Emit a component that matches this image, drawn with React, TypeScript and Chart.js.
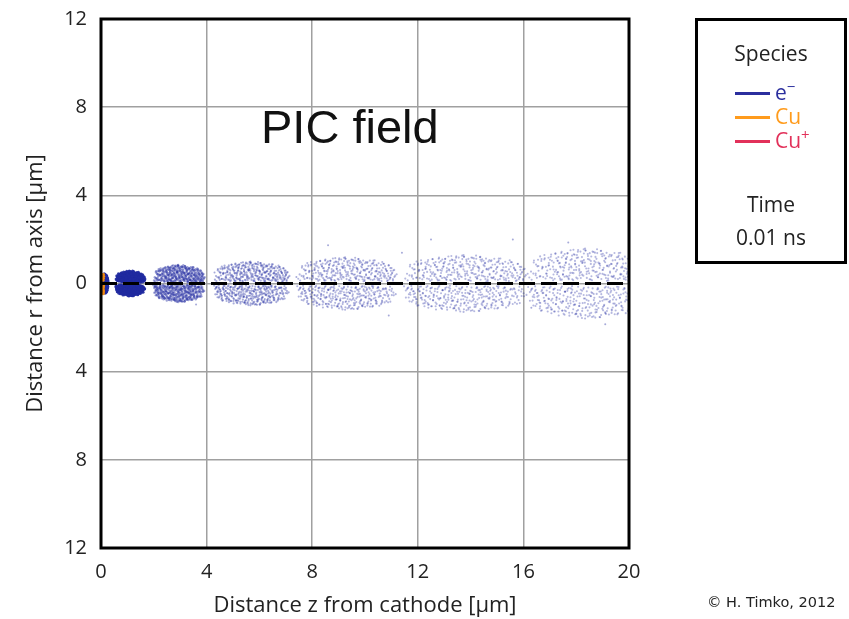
import React, { useEffect, useRef } from "react";
import { Chart, registerables } from "chart.js";

Chart.register(...registerables);

// ---- axes ----
const zTicks = [0, 4, 8, 12, 16, 20];
const rTicks = [-12, -8, -4, 0, 4, 8, 12];

// ---- electron clouds (centre z, half width, inner / outer radius) ----
const clusterZ = [0.14, 1.1, 2.95, 5.7, 9.3, 13.8, 18.4];
const clusterHalfWidth = [0.12, 0.55, 0.95, 1.4, 1.85, 2.3, 2.2];
const clusterRInner = [0.04, 0.05, 0.06, 0.08, 0.1, 0.1, 0.12];
const clusterROuter = [0.45, 0.58, 0.85, 1.0, 1.2, 1.3, 1.6];
const clusterAlpha = [1, 0.9, 0.43, 0.38, 0.34, 0.33, 0.33];
const clusterDotSize = [1.6, 1.5, 1.2, 1.1, 1.05, 1.05, 1.05];
const clusterCopies = [1, 2, 3, 3, 3, 3, 3];
const copyShiftU = [0, 0.047, -0.029];
const copyShiftV = [0, 0.37, 0.71];

// hand-placed texture of one lobe (u: along z in half widths, v: across r)
const STAMP: [number, number][] = [
  [-0.92, 0.35], [-0.85, 0.62], [-0.81, 0.18], [-0.77, 0.48], [-0.73, 0.81], [-0.7, 0.27], [-0.66, 0.55],
  [-0.63, 0.12], [-0.6, 0.7], [-0.57, 0.39], [-0.54, 0.92], [-0.51, 0.22], [-0.48, 0.58], [-0.46, 0.08],
  [-0.43, 0.76], [-0.4, 0.33], [-0.38, 0.5], [-0.35, 0.15], [-0.33, 0.88], [-0.3, 0.42], [-0.28, 0.65],
  [-0.25, 0.25], [-0.23, 0.97], [-0.2, 0.53], [-0.18, 0.1], [-0.15, 0.72], [-0.13, 0.36], [-0.1, 0.6],
  [-0.08, 0.19], [-0.05, 0.84], [-0.03, 0.45], [0.0, 0.28], [0.02, 0.67], [0.05, 0.05], [0.07, 0.52],
  [0.1, 0.9], [0.12, 0.31], [0.15, 0.74], [0.17, 0.16], [0.2, 0.57], [0.22, 0.4], [0.25, 0.83],
  [0.27, 0.22], [0.3, 0.63], [0.33, 0.09], [0.35, 0.47], [0.38, 0.78], [0.4, 0.3], [0.43, 0.55],
  [0.46, 0.13], [0.49, 0.69], [0.52, 0.37], [0.55, 0.86], [0.58, 0.24], [0.61, 0.5], [0.64, 0.07],
  [0.67, 0.64], [0.7, 0.33], [0.74, 0.44], [0.78, 0.2], [0.82, 0.58], [0.86, 0.3], [0.91, 0.41],
  [0.95, 0.15], [-0.96, 0.5], [-0.88, 0.25], [-0.83, 0.42], [-0.75, 0.15], [-0.68, 0.38], [-0.62, 0.85],
  [-0.55, 0.31], [-0.5, 0.66], [-0.45, 0.44], [-0.41, 0.2], [-0.36, 0.71], [-0.31, 0.05], [-0.27, 0.46],
  [-0.22, 0.34], [-0.17, 0.8], [-0.12, 0.24], [-0.07, 0.56], [-0.02, 0.93], [0.03, 0.38], [0.08, 0.14],
  [0.13, 0.61], [0.18, 0.86], [0.23, 0.48], [0.28, 0.35], [0.32, 0.7], [0.37, 0.18], [0.42, 0.8],
  [0.47, 0.42], [0.53, 0.6], [0.57, 0.1], [0.62, 0.75], [0.66, 0.45], [0.72, 0.55], [0.76, 0.27],
  [0.8, 0.68], [0.85, 0.45], [0.89, 0.22], [0.93, 0.52], [0.98, 0.35],
];

// isolated electrons away from the clouds
const strayZ = [8.6, 11.4, 12.5, 15.6, 17.7, 3.6, 10.9, 19.1, 7.4, 4.3, 16.3];
const strayR = [1.73, 1.4, 2.0, 2.0, 1.86, -0.95, -1.45, -1.85, 0.3, 0.5, -1.1];

// copper atoms at the cathode
const cuZ = [0.09, 0.1, 0.09, 0.08, 0.1, 0.09, 0.08, 0.1, 0.09, 0.08];
const cuR = [0.42, 0.33, 0.24, 0.15, -0.1, -0.18, -0.26, -0.34, -0.42, -0.47];

// legend
const speciesNames = ["e", "Cu", "Cu"];
const speciesSup = ["\u2212", "", "+"];
const speciesColors = ["#2b2f9e", "#ff9b1c", "#e2315a"];

const FONT = "'Open Sans', 'DejaVu Sans', sans-serif";

function lobeR(k: number, u: number, v: number) {
  const span = clusterROuter[k] - clusterRInner[k];
  const env = 0.4 + 0.6 * Math.sqrt(Math.max(0, 1 - u * u));
  return clusterRInner[k] + v * span * env;
}

function cloudPoints(k: number) {
  const pts: { x: number; y: number }[] = [];
  const n = STAMP.length;
  for (let c = 0; c < clusterCopies[k]; c++) {
    for (let i = 0; i < n; i++) {
      const [u0, v0] = STAMP[i];
      const u = u0 + copyShiftU[c];
      const v = (v0 + copyShiftV[c]) % 1;
      pts.push({ x: clusterZ[k] + u * clusterHalfWidth[k], y: lobeR(k, u, v) });
      const [u1, v1] = STAMP[n - 1 - i];
      const ul = -u1 + copyShiftU[c];
      const vl = (v1 + copyShiftV[c]) % 1;
      pts.push({ x: clusterZ[k] + ul * clusterHalfWidth[k], y: -lobeR(k, ul, vl) });
    }
  }
  return pts;
}

const framePlugin = {
  id: "frame",
  afterDraw(chart: any) {
    const { ctx, chartArea: a } = chart;
    ctx.save();
    ctx.strokeStyle = "#000";
    ctx.lineWidth = 3;
    ctx.strokeRect(a.left, a.top, a.right - a.left, a.bottom - a.top);
    ctx.restore();
  },
};

export default function App() {
  const ref = useRef<HTMLCanvasElement | null>(null);

  useEffect(() => {
    if (!ref.current) return;
    const datasets: any[] = [];
    datasets.push({
      type: "line",
      label: "axis",
      data: [
        { x: zTicks[0], y: 0 },
        { x: zTicks[zTicks.length - 1], y: 0 },
      ],
      borderColor: "#000",
      borderWidth: 3.2,
      borderDash: [16, 6],
      pointRadius: 0,
      order: 0,
    });
    clusterZ.forEach((_, k) => {
      datasets.push({
        type: "scatter",
        label: "e- " + k,
        data: cloudPoints(k),
        backgroundColor: `rgba(32,42,160,${clusterAlpha[k]})`,
        borderWidth: 0,
        pointRadius: clusterDotSize[k],
        order: 2,
      });
    });
    datasets.push({
      type: "scatter",
      label: "e- stray",
      data: strayZ.map((z, i) => ({ x: z, y: strayR[i] })),
      backgroundColor: "rgba(32,42,160,0.4)",
      borderWidth: 0,
      pointRadius: 1,
      order: 2,
    });
    datasets.push({
      type: "scatter",
      label: "Cu",
      data: cuZ.map((z, i) => ({ x: z, y: cuR[i] })),
      backgroundColor: "#f08a10",
      borderWidth: 0,
      pointRadius: 1.5,
      order: 1,
    });

    const tickFont = { family: FONT, size: 20 };
    const titleFont = { family: FONT, size: 22 };
    const chart = new Chart(ref.current, {
      type: "scatter",
      data: { datasets },
      plugins: [framePlugin],
      options: {
        animation: false,
        responsive: false,
        layout: { padding: { top: 19, right: 220, left: 0, bottom: 0 } },
        plugins: { legend: { display: false }, tooltip: { enabled: false } },
        scales: {
          x: {
            type: "linear",
            min: zTicks[0],
            max: zTicks[zTicks.length - 1],
            afterBuildTicks: (s: any) => {
              s.ticks = zTicks.map((v) => ({ value: v }));
            },
            afterFit: (s: any) => {
              s.height = 71;
              s.paddingLeft = 0;
              s.paddingRight = 0;
            },
            ticks: { font: tickFont, color: "#222", padding: 12, maxRotation: 0 },
            grid: { color: "#a0a0a0", lineWidth: 1.5, drawTicks: false },
            border: { display: false },
            title: {
              display: true,
              text: "Distance z from cathode [\u03bcm]",
              font: titleFont,
              color: "#222",
              padding: { top: 0, bottom: 0 },
            },
          },
          y: {
            type: "linear",
            min: rTicks[0],
            max: rTicks[rTicks.length - 1],
            afterBuildTicks: (s: any) => {
              s.ticks = rTicks.map((v) => ({ value: v }));
            },
            afterFit: (s: any) => {
              s.width = 101;
              s.paddingTop = 0;
              s.paddingBottom = 0;
            },
            ticks: {
              font: tickFont,
              color: "#222",
              padding: 14,
              callback: (v: any) => String(Math.abs(Number(v))),
            },
            grid: { color: "#a0a0a0", lineWidth: 1.5, drawTicks: false },
            border: { display: false },
            title: {
              display: true,
              text: "Distance r from axis [\u03bcm]",
              font: titleFont,
              color: "#222",
              padding: { top: 23, bottom: 0 },
            },
          },
        },
      },
    } as any);
    return () => chart.destroy();
  }, []);

  const abs = (o: React.CSSProperties): React.CSSProperties => ({ position: "absolute", ...o });

  return (
    <div style={{ position: "fixed", left: 0, top: 0, width: 849, height: 619, background: "#fff" }}>
      <canvas ref={ref} width={849} height={619} style={{ width: 849, height: 619, display: "block" }} />
      <div
        style={abs({
          left: 261,
          top: 103,
          fontFamily: "'Liberation Sans', Arial, sans-serif",
          fontSize: 47,
          lineHeight: "47px",
          color: "#111",
          whiteSpace: "nowrap",
        })}
      >
        PIC field
      </div>
      <div
        style={abs({
          left: 695,
          top: 18,
          width: 152,
          height: 246,
          boxSizing: "border-box",
          border: "3px solid #000",
        })}
      />
      <div style={abs({ left: 695, width: 152, top: 38, height: 30, lineHeight: "30px", textAlign: "center", fontFamily: FONT, fontSize: 21, color: "#222" })}>
        Species
      </div>
      {speciesNames.map((name, i) => {
        const cy = [93, 117, 141][i];
        return (
          <React.Fragment key={i}>
            <div style={abs({ left: 735, top: cy - 1.5, width: 35, height: 3, background: speciesColors[i] })} />
            <div
              style={abs({
                left: 775,
                top: cy - 16,
                height: 30,
                lineHeight: "30px",
                fontFamily: FONT,
                fontSize: 21,
                color: speciesColors[i],
                whiteSpace: "nowrap",
              })}
            >
              {name}
              {speciesSup[i] ? (
                <span style={{ fontSize: 15, position: "relative", top: -8 }}>{speciesSup[i]}</span>
              ) : null}
            </div>
          </React.Fragment>
        );
      })}
      <div style={abs({ left: 695, width: 152, top: 189, height: 30, lineHeight: "30px", textAlign: "center", fontFamily: FONT, fontSize: 21, color: "#222" })}>
        Time
      </div>
      <div style={abs({ left: 695, width: 152, top: 222, height: 30, lineHeight: "30px", textAlign: "center", fontFamily: FONT, fontSize: 21, color: "#222" })}>
        0.01 ns
      </div>
      <div
        style={abs({
          left: 707,
          top: 592,
          height: 20,
          lineHeight: "20px",
          fontFamily: "'DejaVu Sans', sans-serif",
          fontSize: 14.5,
          color: "#222",
          whiteSpace: "nowrap",
        })}
      >
        © H. Timko, 2012
      </div>
    </div>
  );
}
